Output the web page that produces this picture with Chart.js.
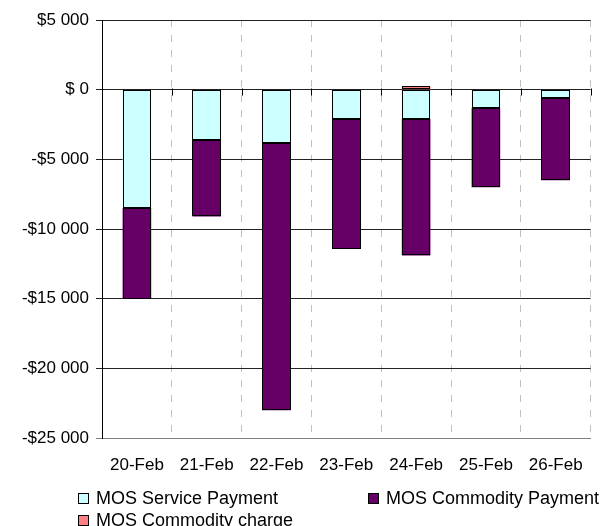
<!DOCTYPE html>
<html>
<head>
<meta charset="utf-8">
<script src="https://cdn.jsdelivr.net/npm/chart.js@4/dist/chart.umd.min.js"></script>
<style>
  body { margin: 0; background: #fff; }
  #wrap { position: relative; width: 600px; height: 526px; }
  #chart { position: absolute; left: 0; top: 0; }
  .legend { position: absolute; font: 18px "Liberation Sans", Arial, sans-serif; color: #000; line-height: 21px; white-space: nowrap; }
  .legend .box { display: inline-block; width: 9px; height: 9px; border: 1px solid #000; margin-right: 7px; vertical-align: 0px; }
</style>
</head>
<body>
<div id="wrap">
  <canvas id="chart" width="600" height="526"></canvas>
  <div class="legend" style="left:78px; top:488px;"><span class="box" style="background:#ccffff"></span>MOS Service Payment</div>
  <div class="legend" style="left:368px; top:488px;"><span class="box" style="background:#660066"></span>MOS Commodity Payment</div>
  <div class="legend" style="left:78px; top:510px;"><span class="box" style="background:#ff8080"></span>MOS Commodity charge</div>
</div>
<script>
// Data
const categories = ["20-Feb", "21-Feb", "22-Feb", "23-Feb", "24-Feb", "25-Feb", "26-Feb"];
const servicePayment = [-8500, -3600, -3800, -2100, -2100, -1300, -600];
const commodityPayment = [-6500, -5500, -19200, -9300, -9800, -5700, -5900];
const commodityCharge = [null, null, null, null, 250, null, null];
const yTickValues = [5000, 0, -5000, -10000, -15000, -20000, -25000];
const yTickLabels = ["$5 000", "$ 0", "-$5 000", "-$10 000", "-$15 000", "-$20 000", "-$25 000"];

const FONT = "'Liberation Sans', Arial, sans-serif";

// crisp black outline round every bar segment (snapped to whole pixels)
const barOutlines = {
    id: "barOutlines",
    afterDatasetsDraw(chart){
        const ctx = chart.ctx;
        ctx.save();
        ctx.strokeStyle = "#000";
        ctx.lineWidth = 1;
        chart.data.datasets.forEach((ds, di) => {
            chart.getDatasetMeta(di).data.forEach((bar, i) => {
                if(ds.data[i] == null) return;
                const p = bar.getProps(["x", "y", "base", "width"], true);
                const l = Math.round(p.x - p.width / 2), r = Math.round(p.x + p.width / 2);
                const t = Math.round(Math.min(p.y, p.base)), b = Math.round(Math.max(p.y, p.base));
                ctx.strokeRect(l + 0.5, t + 0.5, r - l - 1, Math.max(b - t - 1, 1));
            });
        });
        ctx.restore();
    }
};

// small tick marks where the category axis crosses $0
const zeroTicks = {
    id: "zeroTicks",
    afterDraw(chart){
        const x = chart.scales.x, y = chart.scales.y, ctx = chart.ctx;
        const y0 = Math.round(y.getPixelForValue(0)) + 0.5;
        const half = (x.getPixelForValue(1) - x.getPixelForValue(0)) / 2;
        ctx.save();
        ctx.strokeStyle = "#000";
        ctx.lineWidth = 1;
        for(let i = 0; i <= categories.length; i++){
            const px = Math.round(x.getPixelForValue(i) - half) + 0.5;
            ctx.beginPath();
            ctx.moveTo(px, y0 - 2);
            ctx.lineTo(px, y0 + 5);
            ctx.stroke();
        }
        ctx.restore();
    }
};

new Chart(document.getElementById("chart"), {
    type: "bar",
    data: {
        labels: categories,
        datasets: [
            { label: "MOS Service Payment", data: servicePayment, backgroundColor: "#ccffff", borderWidth: 0 },
            { label: "MOS Commodity Payment", data: commodityPayment, backgroundColor: "#660066", borderWidth: 0 },
            { label: "MOS Commodity charge", data: commodityCharge, backgroundColor: "#ff8080", borderWidth: 0 }
        ]
    },
    options: {
        responsive: false,
        animation: false,
        categoryPercentage: 1,
        barPercentage: 0.41,
        layout: { padding: { top: 20, right: 5, left: 0, bottom: 0 } },
        plugins: { legend: { display: false }, tooltip: { enabled: false } },
        scales: {
            x: {
                stacked: true,
                grid: { color: "#c0c0c0", offset: true, drawTicks: false },
                border: { color: "#808080", dash: [7, 8] },
                ticks: { color: "#000", padding: 17, font: { family: FONT, size: 17 } },
                afterFit: s => { s.height = 88; }
            },
            y: {
                stacked: true,
                min: -25000,
                max: 5000,
                afterBuildTicks: s => { s.ticks = yTickValues.map(v => ({ value: v })); },
                grid: { color: c => c.tick && c.tick.value === -25000 ? "#808080" : "#222", tickLength: 6 },
                border: { color: "#000" },
                ticks: {
                    color: "#000",
                    padding: 7,
                    font: { family: FONT, size: 17 },
                    callback: v => yTickLabels[yTickValues.indexOf(v)]
                },
                afterFit: s => { s.width = 102; }
            }
        }
    },
    plugins: [barOutlines, zeroTicks]
});
</script>
</body>
</html>
